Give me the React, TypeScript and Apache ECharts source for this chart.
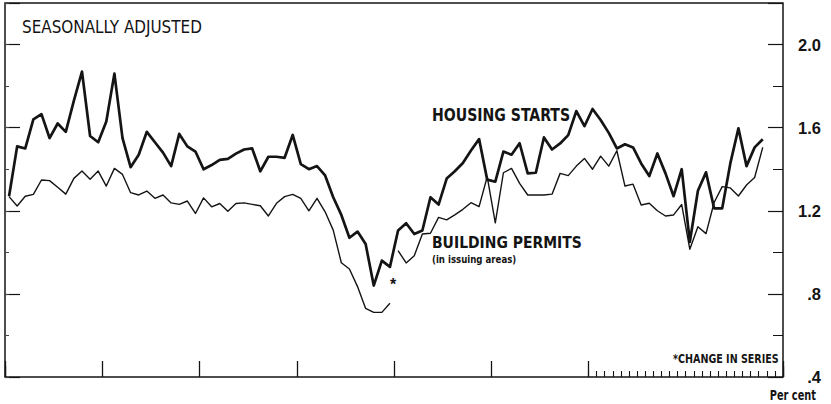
import { useEffect, useRef } from "react";
import * as echarts from "echarts";

// Monthly categories: 8 years x 12 months (index of month)
const months: string[] = Array.from({ length: 96 }, (_, i) => String(i));

// Housing starts (millions of units, seasonally adjusted annual rate)
const housingStarts: (number | null)[] = [
  1.27, 1.51, 1.5, 1.64, 1.665, 1.55, 1.62, 1.58, 1.73, 1.87,
  1.56, 1.53, 1.63, 1.86, 1.55, 1.41, 1.47, 1.58, 1.53, 1.48,
  1.415, 1.57, 1.51, 1.485, 1.4, 1.42, 1.445, 1.45, 1.475, 1.495,
  1.5, 1.39, 1.46, 1.46, 1.455, 1.565, 1.425, 1.4, 1.415, 1.37,
  1.265, 1.18, 1.07, 1.1, 1.04, 0.84, 0.96, 0.93, 1.105, 1.14,
  1.088, 1.105, 1.265, 1.23, 1.355, 1.39, 1.43, 1.49, 1.545, 1.35,
  1.34, 1.485, 1.47, 1.525, 1.38, 1.383, 1.553, 1.495, 1.524, 1.564,
  1.68, 1.607, 1.69, 1.637, 1.575, 1.5, 1.52, 1.505, 1.428, 1.367,
  1.476, 1.38, 1.27, 1.4, 1.05, 1.296, 1.385, 1.212, 1.212, 1.428,
  1.597, 1.415, 1.505, 1.544, null, null,
];

// Building permits, old series (months 0..47)
const permitsOld: number[] = [
  1.268, 1.223, 1.27, 1.279, 1.348, 1.345, 1.313, 1.28, 1.356, 1.391,
  1.352, 1.391, 1.319, 1.404, 1.375, 1.287, 1.276, 1.295, 1.26, 1.276,
  1.238, 1.231, 1.247, 1.187, 1.262, 1.219, 1.235, 1.198, 1.235, 1.238,
  1.231, 1.224, 1.175, 1.236, 1.268, 1.279, 1.26, 1.2, 1.26, 1.195,
  1.107, 0.95, 0.92, 0.835, 0.73, 0.711, 0.711, 0.755,
];

// Building permits, new series after change (months 48..93)
const permitsNew: number[] = [
  1.008, 0.949, 0.984, 1.088, 1.092, 1.168, 1.156, 1.18, 1.207, 1.239,
  1.22, 1.364, 1.142, 1.383, 1.404, 1.332, 1.276, 1.276, 1.276, 1.28,
  1.38, 1.369, 1.415, 1.452, 1.4, 1.463, 1.415, 1.489, 1.319, 1.328,
  1.228, 1.236, 1.2, 1.175, 1.18, 1.23, 1.015, 1.123, 1.09, 1.24,
  1.316, 1.31, 1.271, 1.324, 1.36, 1.505,
];

const yTickValues = [0.4, 0.8, 1.2, 1.6, 2.0];
const yTickLabels = [".4", ".8", "1.2", "1.6", "2.0"];

const INK = "#141414";
const NARROW = '"Liberation Sans Narrow", "DejaVu Sans Condensed", "Liberation Sans", sans-serif';
const WIDE = '"Liberation Sans", Arial, sans-serif';

export default function App() {
  const ref = useRef<HTMLDivElement>(null);

  useEffect(() => {
    if (!ref.current) return;
    const chart = echarts.init(ref.current, undefined, { renderer: "svg" });

    const nulls = (n: number) => Array.from({ length: n }, () => null);
    const oldData = [...permitsOld, ...nulls(months.length - permitsOld.length)];
    const newStart = permitsOld.length;
    const newData = [
      ...nulls(newStart),
      ...permitsNew,
      ...nulls(months.length - newStart - permitsNew.length),
    ];

    const xBase = {
      type: "category" as const,
      data: months,
      boundaryGap: true,
      position: "bottom" as const,
      axisLine: { show: false },
      axisLabel: { show: false },
      splitLine: { show: false },
    };

    const yBase = {
      type: "value" as const,
      min: 0.4,
      max: 2.2,
      axisLine: { show: false },
      splitLine: { show: false },
      axisLabel: { show: false },
    };

    const lineSeries = (name: string, data: (number | null)[], width: number) => ({
      name,
      type: "line" as const,
      data,
      xAxisIndex: 0,
      yAxisIndex: 0,
      symbol: "none",
      showSymbol: false,
      connectNulls: false,
      lineStyle: { color: INK, width, join: "round" as const },
      itemStyle: { color: INK },
    });

    const text = (
      t: string,
      x: number,
      y: number,
      size: number,
      family: string,
      weight: string,
      scaleX: number,
      align: string = "left"
    ) => ({
      type: "text" as const,
      x,
      y,
      scaleX,
      silent: true,
      style: {
        text: t,
        fill: INK,
        fontSize: size,
        fontFamily: family,
        fontWeight: weight,
        align,
        verticalAlign: "middle",
      },
    });

    chart.setOption({
      animation: false,
      backgroundColor: "#ffffff",
      grid: {
        left: 5,
        top: 3,
        width: 778,
        height: 374,
        show: true,
        borderColor: INK,
        borderWidth: 1.5,
        backgroundColor: "transparent",
      },
      xAxis: [
        {
          ...xBase,
          axisTick: {
            show: true,
            inside: true,
            length: 16,
            interval: (i: number) => i % 12 === 0 && i !== 84,
            lineStyle: { color: INK, width: 1.3 },
          },
        },
        {
          ...xBase,
          axisTick: {
            show: true,
            inside: true,
            length: 11,
            interval: (i: number) => i === 84,
            lineStyle: { color: INK, width: 1.3 },
          },
        },
        {
          ...xBase,
          axisTick: {
            show: true,
            inside: true,
            length: 6,
            interval: (i: number) => i >= 72,
            lineStyle: { color: INK, width: 1.1 },
          },
        },
      ],
      yAxis: [
        {
          ...yBase,
          position: "left",
          interval: 0.4,
          axisTick: { show: true, inside: true, length: 15, lineStyle: { color: INK, width: 1.2 } },
        },
        {
          ...yBase,
          position: "left",
          interval: 0.2,
          axisTick: { show: true, inside: true, length: 4, lineStyle: { color: "#444", width: 1 } },
        },
        {
          ...yBase,
          position: "right",
          interval: 0.4,
          axisTick: { show: true, inside: true, length: 15, lineStyle: { color: INK, width: 1.2 } },
          axisLabel: {
            show: true,
            margin: 38,
            align: "right",
            color: INK,
            fontFamily: WIDE,
            fontWeight: "bold",
            fontSize: 16.5,
            formatter: (v: number) => {
              const k = yTickValues.findIndex((t) => Math.abs(t - v) < 1e-6);
              return k >= 0 ? yTickLabels[k] : "";
            },
          },
        },
        {
          ...yBase,
          position: "right",
          interval: 0.2,
          axisTick: { show: true, inside: true, length: 10, lineStyle: { color: INK, width: 1 } },
        },
      ],
      series: [
        lineSeries("Building permits (old series)", oldData, 1.4),
        lineSeries("Building permits (in issuing areas)", newData, 1.4),
        lineSeries("Housing starts", housingStarts, 2.7),
      ],
      graphic: [
        text("SEASONALLY ADJUSTED", 22, 26.5, 18, NARROW, "normal", 0.94),
        text("HOUSING STARTS", 432, 115, 18, NARROW, "bold", 0.87),
        text("BUILDING PERMITS", 432, 242, 16.5, NARROW, "bold", 0.94),
        text("(in issuing areas)", 432, 258.5, 11, NARROW, "bold", 0.87),
        text("*", 393, 284, 16, WIDE, "bold", 1, "center"),
        text("*CHANGE IN SERIES", 673, 358.5, 12.5, NARROW, "bold", 0.85),
        text("Per cent", 816, 395, 14, NARROW, "bold", 0.78, "right"),
      ],
    });

    return () => chart.dispose();
  }, []);

  return (
    <div
      ref={ref}
      style={{ position: "fixed", left: 0, top: 0, width: 831, height: 404, background: "#fff" }}
    />
  );
}
